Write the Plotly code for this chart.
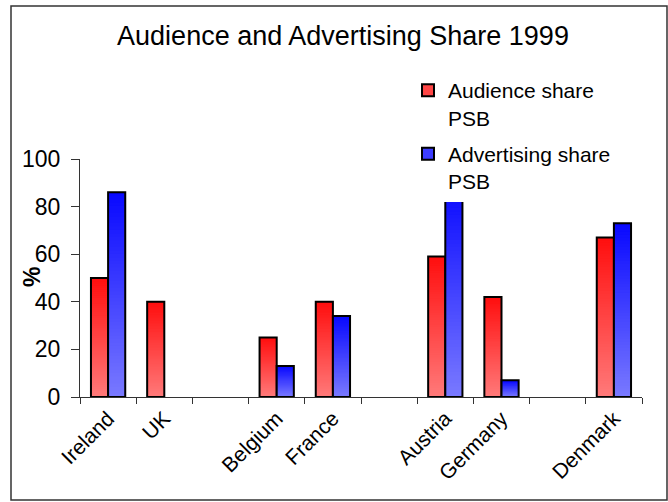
import plotly.graph_objects as go

# Countries along the x axis; blank slots separate the country groups
categories = ["Ireland", "UK", " ", "Belgium", "France", "  ", "Austria", "Germany", "   ", "Denmark"]
tick_labels = ["Ireland", "UK", "", "Belgium", "France", "", "Austria", "Germany", "", "Denmark"]

# Shares in percent (None = no bar)
audience_share = [50, 40, None, 25, 40, None, 59, 42, None, 67]
advertising_share = [86, None, None, 13, 34, None, 90, 7, None, 73]

series_names = ["Audience share<br>PSB", "Advertising share<br>PSB"]

FONT = "Liberation Sans, Arial, sans-serif"
N_STEPS = 60  # slices per bar used to build the vertical colour gradient


def blend(c0, c1, t):
    return "rgb({},{},{})".format(*[round(a + (b - a) * t) for a, b in zip(c0, c1)])


def gradient_bars(fig, values, group, bottom_rgb, top_rgb, name, legend_rgb):
    # overlapping slices: slice i spans from i/N of the bar up to its top,
    # later (higher) slices are painted over earlier ones
    for i in range(N_STEPS):
        t = (i + 0.5) / N_STEPS
        fig.add_trace(go.Bar(
            x=categories,
            y=[v * (N_STEPS - i) / N_STEPS if v is not None else None for v in values],
            base=[v * i / N_STEPS if v is not None else None for v in values],
            offsetgroup=group, legendgroup=group,
            marker=dict(color=blend(bottom_rgb, top_rgb, t), line=dict(width=0)),
            showlegend=False, hoverinfo="skip",
        ))
    # black outline over the full bar
    fig.add_trace(go.Bar(
        x=categories, y=values, offsetgroup=group, legendgroup=group,
        marker=dict(color="rgba(0,0,0,0)", line=dict(color="black", width=2)),
        showlegend=False, hovertemplate="%{x}: %{y}%<extra></extra>",
    ))
    # legend entry
    fig.add_trace(go.Bar(
        x=categories, y=[None] * len(categories), offsetgroup=group, legendgroup=group,
        name=name,
        marker=dict(color=legend_rgb, line=dict(color="black", width=2)),
        showlegend=True, hoverinfo="skip",
    ))


fig = go.Figure()
gradient_bars(fig, audience_share, "aud", (255, 122, 122), (255, 14, 14),
              series_names[0], "rgb(255,70,70)")
gradient_bars(fig, advertising_share, "adv", (122, 122, 255), (8, 8, 255),
              series_names[1], "rgb(60,60,255)")

# plot area in pixels: x 80..642, y 159..397
L, R, T, B = 80, 26, 159, 105
PW, PH = 668 - L - R, 502 - T - B


def px_x(x):
    return (x - L) / PW


def px_y(y):
    return (502 - B - y) / PH


fig.update_layout(
    width=668, height=502,
    margin=dict(l=L, r=R, t=T, b=B),
    paper_bgcolor="white", plot_bgcolor="white",
    font=dict(family=FONT, color="black", size=20),
    barmode="group", bargap=0.39, bargroupgap=0,
    title=dict(text="Audience and Advertising Share 1999", font=dict(size=27, family=FONT),
               x=343 / 668, xref="container", xanchor="center",
               y=1 - 36 / 502, yref="container", yanchor="middle"),
    xaxis=dict(type="category", categoryorder="array", categoryarray=categories,
               tickmode="array", tickvals=categories, ticktext=tick_labels,
               tickson="boundaries", ticks="outside", ticklen=6, tickcolor="#333",
               showline=True, linecolor="#333", linewidth=1, showgrid=False,
               tickangle=-45, tickfont=dict(size=21)),
    yaxis=dict(range=[0, 100], dtick=20, ticks="outside", ticklen=8, tickcolor="#333",
               showline=True, linecolor="#333", linewidth=1, showgrid=False, zeroline=False,
               ticklabelstandoff=6, tickfont=dict(size=23)),
    legend=dict(x=px_x(408), y=px_y(70), xanchor="left", yanchor="top",
                bgcolor="white", borderwidth=0, valign="top",
                traceorder="grouped", tracegroupgap=6,
                font=dict(size=21, family=FONT)),
    annotations=[dict(text="<b>%</b>", xref="paper", yref="paper",
                      x=px_x(17), y=px_y(277), showarrow=False, textangle=-90,
                      font=dict(size=23, family=FONT))],
    shapes=[dict(type="rect", xref="paper", yref="paper",
                 x0=px_x(11), x1=px_x(667), y0=px_y(500), y1=px_y(6),
                 line=dict(color="#333", width=1.5), layer="below")],
)

fig.write_html("out.html")
